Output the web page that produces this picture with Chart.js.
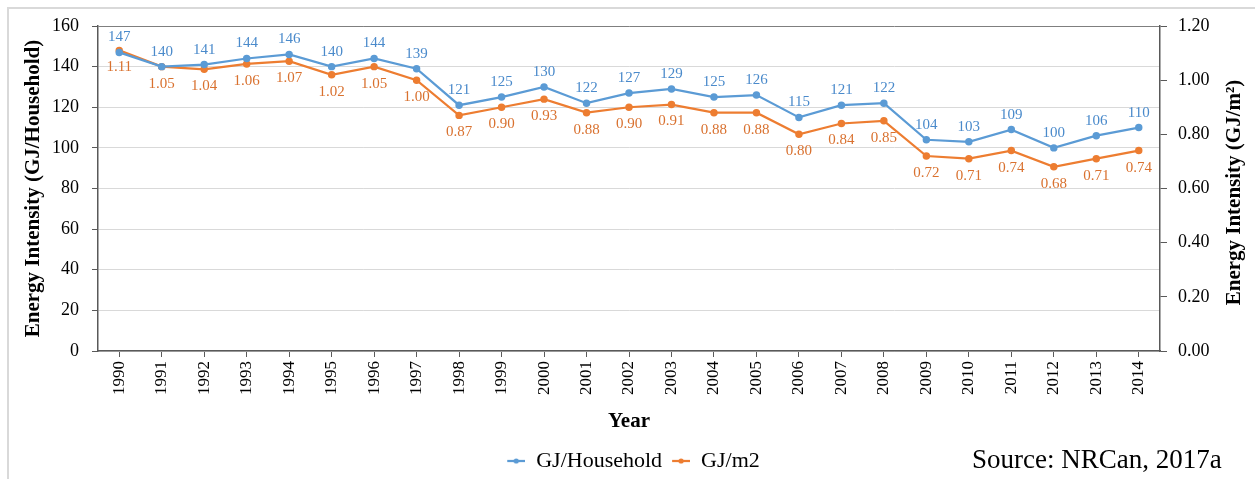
<!DOCTYPE html>
<html>
<head>
<meta charset="utf-8">
<title>Energy Intensity</title>
<script src="https://cdn.jsdelivr.net/npm/chart.js@4/dist/chart.umd.min.js"></script>
<style>
  html, body { margin: 0; padding: 0; background: #fff; }
  #wrap { position: relative; width: 1255px; height: 479px; overflow: hidden; }
  #frame {
    position: absolute; left: 7px; top: 7px; width: 1300px; height: 520px;
    border: 2px solid #d9d9d9; box-sizing: border-box;
  }
  #chart { position: absolute; left: 0; top: 0; }
</style>
</head>
<body>
<div id="wrap">
  <div id="frame"></div>
  <canvas id="chart" width="1255" height="479"></canvas>
</div>
<script>
(function () {
  'use strict';

  var years = ['1990', '1991', '1992', '1993', '1994', '1995', '1996', '1997', '1998', '1999',
    '2000', '2001', '2002', '2003', '2004', '2005', '2006', '2007', '2008', '2009',
    '2010', '2011', '2012', '2013', '2014'];
  var gjPerHousehold = [147, 140, 141, 144, 146, 140, 144, 139, 121, 125, 130, 122, 127, 129,
    125, 126, 115, 121, 122, 104, 103, 109, 100, 106, 110];
  var gjPerM2 = [1.11, 1.05, 1.04, 1.06, 1.07, 1.02, 1.05, 1.00, 0.87, 0.90, 0.93, 0.88, 0.90,
    0.91, 0.88, 0.88, 0.80, 0.84, 0.85, 0.72, 0.71, 0.74, 0.68, 0.71, 0.74];
  var leftTicks = [0, 20, 40, 60, 80, 100, 120, 140, 160];
  var rightTicks = [0, 0.2, 0.4, 0.6, 0.8, 1.0, 1.2];

  var BLUE = '#5b9bd5';
  var ORANGE = '#ed7d31';
  var SERIF = '"Liberation Serif", "Times New Roman", serif';
  var AXIS = '#595959';

  // small line+dot swatch for the legend
  function swatch(color) {
    var c = document.createElement('canvas');
    c.width = 22; c.height = 10;
    var g = c.getContext('2d');
    g.strokeStyle = color; g.lineWidth = 2.25;
    g.beginPath(); g.moveTo(4, 5); g.lineTo(22, 5); g.stroke();
    g.fillStyle = color;
    g.beginPath(); g.arc(13, 5, 2.6, 0, Math.PI * 2); g.fill();
    return c;
  }

  // ── Value labels, right-hand title, source note ───────────────────────────
  var extras = {
    id: 'extras',
    afterLayout: function (chart) {
      var dx = 4, dy = 5;
      chart.legend.left += dx;
      chart.legend.right += dx;
      chart.legend.top += dy;
      chart.legend.bottom += dy;
    },
    afterDatasetsDraw: function (chart) {
      var ctx = chart.ctx;
      ctx.save();
      ctx.font = '15px ' + SERIF;
      ctx.textAlign = 'center';
      ctx.textBaseline = 'middle';
      chart.getDatasetMeta(0).data.forEach(function (pt, i) {
        ctx.fillStyle = '#4a8acb';
        ctx.fillText(String(gjPerHousehold[i]), pt.x, pt.y - 15);
      });
      chart.getDatasetMeta(1).data.forEach(function (pt, i) {
        ctx.fillStyle = '#d9712f';
        ctx.fillText(gjPerM2[i].toFixed(2), pt.x, pt.y + 17);
      });
      ctx.restore();
    },
    afterDraw: function (chart) {
      var ctx = chart.ctx;
      var area = chart.chartArea;
      ctx.save();
      ctx.fillStyle = '#000';
      ctx.font = 'bold 21px ' + SERIF;
      ctx.textAlign = 'center';
      ctx.textBaseline = 'middle';
      ctx.translate(1235, (area.top + area.bottom) / 2 + 4);
      ctx.rotate(-Math.PI / 2);
      ctx.fillText('Energy Intensity (GJ/m\u00B2)', 0, 0);
      ctx.restore();

      ctx.save();
      ctx.fillStyle = '#000';
      ctx.font = '27px ' + SERIF;
      ctx.textAlign = 'left';
      ctx.textBaseline = 'middle';
      ctx.fillText('Source: NRCan, 2017a', 972, 461);
      ctx.restore();
    }
  };

  new Chart(document.getElementById('chart'), {
    type: 'line',
    data: {
      labels: years,
      datasets: [{
        label: 'GJ/Household',
        data: gjPerHousehold,
        yAxisID: 'y',
        borderColor: BLUE,
        backgroundColor: BLUE,
        borderWidth: 2.25,
        pointRadius: 2.6,
        pointHoverRadius: 2.6,
        tension: 0
      }, {
        label: 'GJ/m2',
        data: gjPerM2,
        yAxisID: 'y1',
        borderColor: ORANGE,
        backgroundColor: ORANGE,
        borderWidth: 2.25,
        pointRadius: 2.6,
        pointHoverRadius: 2.6,
        tension: 0
      }]
    },
    options: {
      responsive: false,
      animation: false,
      events: [],
      layout: { padding: { top: 26, left: 0, right: 0, bottom: 2 } },
      plugins: {
        tooltip: { enabled: false },
        legend: {
          position: 'bottom',
          labels: {
            color: '#000',
            font: { family: SERIF, size: 22 },
            usePointStyle: true,
            padding: 6,
            generateLabels: function (chart) {
              return chart.data.datasets.map(function (ds, i) {
                return {
                  text: ds.label,
                  pointStyle: swatch(ds.borderColor),
                  fillStyle: ds.borderColor,
                  strokeStyle: ds.borderColor,
                  lineWidth: 0,
                  fontColor: '#000',
                  datasetIndex: i
                };
              });
            }
          }
        }
      },
      scales: {
        x: {
          offset: true,
          afterFit: function (s) { s.height = 88; },
          border: { color: AXIS, width: 1.5 },
          grid: {
            offset: false,
            drawOnChartArea: false,
            color: AXIS,
            tickLength: 6
          },
          ticks: {
            color: '#000',
            font: { family: SERIF, size: 17 },
            minRotation: 90,
            maxRotation: 90,
            autoSkip: false,
            padding: 4
          },
          title: {
            display: true,
            text: 'Year',
            color: '#000',
            font: { family: SERIF, size: 21, weight: 'bold' },
            padding: { top: 0, bottom: 5 }
          }
        },
        y: {
          position: 'left',
          min: 0,
          max: 160,
          afterFit: function (s) { s.width = 98; },
          afterBuildTicks: function (s) {
            s.ticks = leftTicks.map(function (v) { return { value: v }; });
          },
          border: { color: AXIS, width: 1.5 },
          grid: {
            color: function (c) { return c.tick && c.tick.value === 160 ? '#7f7f7f' : '#d9d9d9'; },
            tickColor: AXIS,
            tickLength: 6
          },
          ticks: {
            color: '#000',
            font: { family: SERIF, size: 18 },
            padding: 13
          },
          title: {
            display: true,
            text: 'Energy Intensity (GJ/Household)',
            color: '#000',
            font: { family: SERIF, size: 21, weight: 'bold' },
            padding: { top: 21, bottom: 0 }
          }
        },
        y1: {
          position: 'right',
          min: 0,
          max: 1.2,
          afterFit: function (s) { s.width = 95; },
          afterBuildTicks: function (s) {
            s.ticks = rightTicks.map(function (v) { return { value: v }; });
          },
          border: { color: AXIS, width: 1.5 },
          grid: {
            drawOnChartArea: false,
            tickColor: AXIS,
            tickLength: 7
          },
          ticks: {
            color: '#000',
            font: { family: SERIF, size: 18 },
            padding: 11,
            callback: function (v) { return Number(v).toFixed(2); }
          }
        }
      }
    },
    plugins: [extras]
  });
}());
</script>
</body>
</html>
